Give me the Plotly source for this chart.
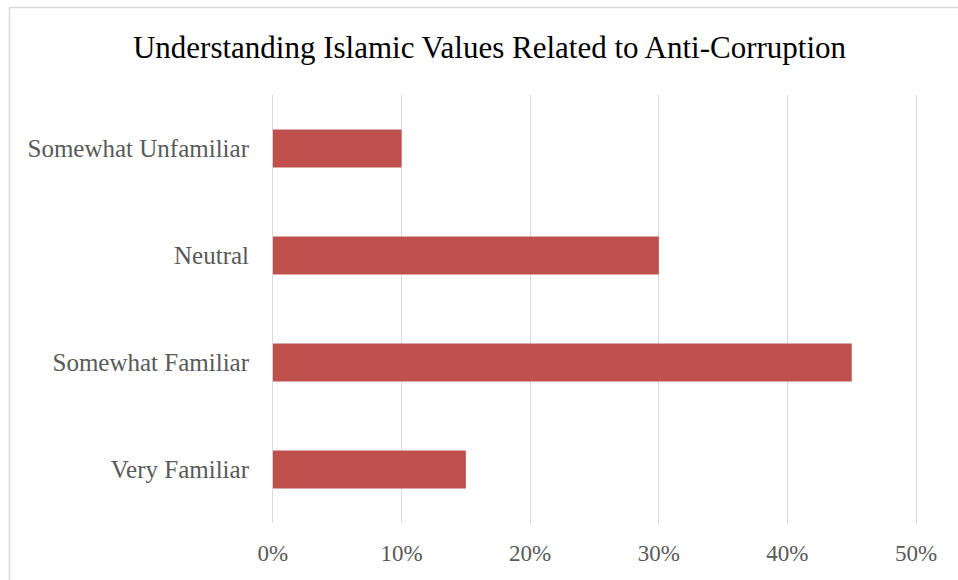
import plotly.graph_objects as go

# Survey responses: familiarity with Islamic values related to anti-corruption
categories = ["Very Familiar", "Somewhat Familiar", "Neutral", "Somewhat Unfamiliar"]
shares = [0.15, 0.45, 0.30, 0.10]
x_ticks = [0, 0.1, 0.2, 0.3, 0.4, 0.5]
x_tick_labels = ["0%", "10%", "20%", "30%", "40%", "50%"]

BAR_COLOR = "#C0504D"
TEXT_COLOR = "#595959"
GRID_COLOR = "#D9D9D9"
FONT = "Liberation Serif"

W, H = 958, 580
L, R, T, B = 271, 40, 95, 57

fig = go.Figure(
    go.Bar(
        x=shares,
        y=categories,
        orientation="h",
        width=0.355,
        marker=dict(color=BAR_COLOR, line=dict(width=0)),
        hoverinfo="skip",
    )
)

# chart-area border (extends past right and bottom edges of the page)
pw = W - L - R
ph = H - T - B
def px_x(p):
    return (p - L) / pw
def px_y(p):
    return (H - B - p) / ph

fig.add_shape(
    type="rect",
    xref="paper", yref="paper",
    x0=px_x(9.5), x1=px_x(W + 5),
    y0=px_y(H + 5), y1=px_y(7.5),
    line=dict(color=GRID_COLOR, width=1.5),
    fillcolor="rgba(0,0,0,0)",
    layer="below",
)

fig.update_layout(
    width=W,
    height=H,
    margin=dict(l=L, r=R, t=T, b=B, pad=0),
    paper_bgcolor="white",
    plot_bgcolor="white",
    showlegend=False,
    title=dict(
        text="Understanding Islamic Values Related to Anti-Corruption",
        font=dict(family=FONT, size=31, color="#000000"),
        x=489.5 / W,
        xanchor="center",
        xref="container",
        y=1 - 47 / H,
        yanchor="middle",
        yref="container",
    ),
    font=dict(family=FONT, color=TEXT_COLOR),
    xaxis=dict(
        # tiny padding so the 0% and 50% gridlines are drawn at the edges
        range=[-0.0015, 0.5015],
        tickvals=x_ticks,
        ticktext=x_tick_labels,
        showgrid=True,
        gridcolor=GRID_COLOR,
        gridwidth=1,
        zeroline=False,
        showline=False,
        ticks="",
        ticklabelstandoff=14,
        tickfont=dict(family=FONT, size=23, color=TEXT_COLOR),
        fixedrange=True,
    ),
    yaxis=dict(
        categoryorder="array",
        categoryarray=categories,
        range=[-0.5, 3.5],
        showgrid=False,
        zeroline=False,
        showline=False,
        ticks="",
        ticklabelstandoff=21,
        tickfont=dict(family=FONT, size=25, color=TEXT_COLOR),
        fixedrange=True,
    ),
)

fig.write_html("out.html", config={"displayModeBar": False})
